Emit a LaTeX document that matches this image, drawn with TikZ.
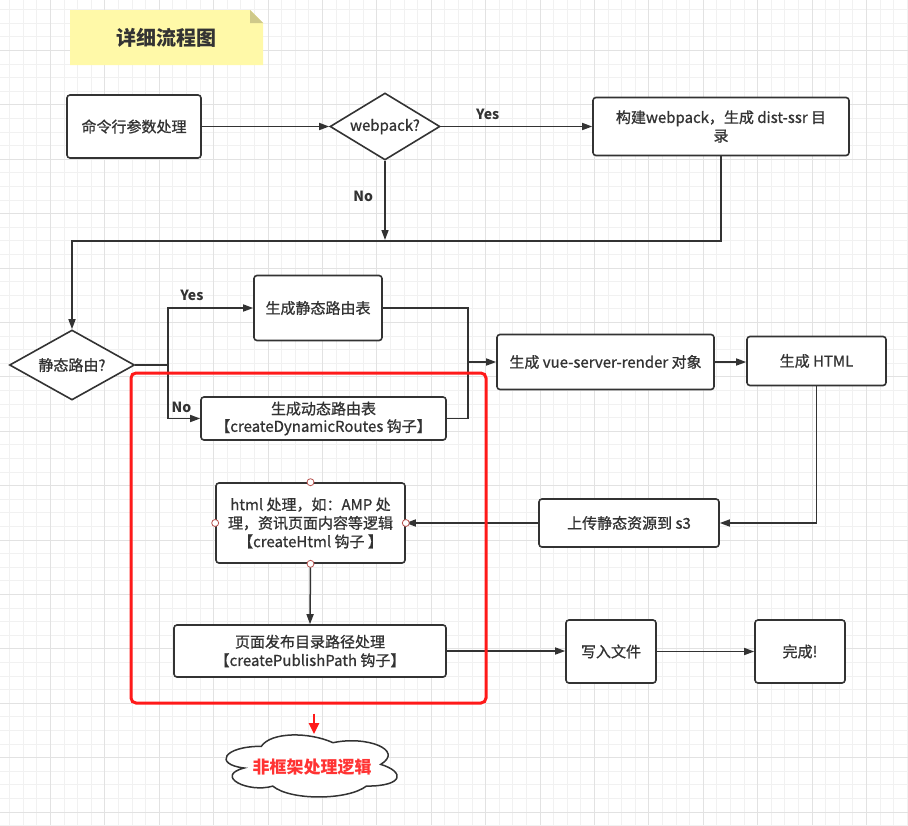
\documentclass[tikz,border=0pt]{standalone}
\usepackage{fontspec}
\setmainfont{Noto Sans CJK SC}
\newfontfamily\boxfont{Noto Sans CJK SC}[FakeBold=0.9]
\usetikzlibrary{arrows.meta,shapes.geometric,calc}
\definecolor{ink}{HTML}{333333}
\definecolor{gminor}{HTML}{F1F1F1}
\definecolor{gmajor}{HTML}{E2E2E2}
\definecolor{notey}{HTML}{FFF9A8}
\definecolor{notef}{HTML}{CFC98A}
\definecolor{hred}{HTML}{FF1A1A}
\definecolor{cred}{HTML}{FF3333}
\definecolor{handle}{HTML}{B85450}
\tikzset{
  txt/.style={font=\boxfont\fontsize{15}{18.5}\selectfont, text=ink},
  stepbox/.style={draw=ink, line width=1.6, rounded corners=3, fill=white, align=center, inner sep=2, txt},
  decision/.style={diamond, draw=ink, line width=1.6, fill=white, inner sep=0, aspect=1.7, txt},
  conn/.style={draw=ink, line width=1.5, -{Triangle[length=10,width=7]}},
  plainline/.style={draw=ink, line width=1.5},
  lbl/.style={text=ink, font=\fontsize{14}{17}\selectfont\bfseries},
  hnd/.style={circle, draw=handle, fill=white, line width=0.8, minimum size=7, inner sep=0},
}
\begin{document}
\begin{tikzpicture}[x=1pt,y=-1pt]
\useasboundingbox (0,0) rectangle (908,825);
\fill[white] (0,0) rectangle (908,825);
% grid
\foreach \i in {0,...,66} {\pgfmathsetmacro\xx{9.6+13.6*\i}\draw[gminor, line width=0.8] (\xx,0) -- (\xx,825);}
\foreach \i in {0,...,60} {\pgfmathsetmacro\yy{9.6+13.6*\i}\draw[gminor, line width=0.8] (0,\yy) -- (908,\yy);}
\foreach \i in {0,...,16} {\pgfmathsetmacro\xx{50.4+54.4*\i}\draw[gmajor, line width=0.8] (\xx,0) -- (\xx,825);}
\foreach \i in {0,...,15} {\pgfmathsetmacro\yy{50.4+54.4*\i}\draw[gmajor, line width=0.8] (0,\yy) -- (908,\yy);}
% title note
\fill[notey] (70,10) -- (250,10) -- (263,23) -- (263,65) -- (70,65) -- cycle;
\fill[notef] (250,10) -- (263,23) -- (250,23) -- cycle;
\node[text=ink, font=\fontsize{20}{24}\selectfont\bfseries] (title) at (166,38) {详细流程图};
% nodes
\node[stepbox, minimum width=134, minimum height=63] (a) at (134,126.5) {命令行参数处理};
\node[decision, minimum width=110, minimum height=67] (d1) at (385,126.5) {webpack?};
\node[stepbox, minimum width=256, minimum height=58] (b) at (721,126.5) {构建webpack，生成 dist-ssr 目\\录};
\node[decision, minimum width=125, minimum height=70] (d2) at (72,365) {静态路由?};
\node[stepbox, minimum width=128, minimum height=65] (c) at (318,308) {生成静态路由表};
\node[stepbox, minimum width=245, minimum height=43, font=\boxfont\fontsize{15}{17.5}\selectfont] (dd) at (323.5,418.5) {生成动态路由表\\【createDynamicRoutes 钩子】};
\node[stepbox, minimum width=217, minimum height=55] (e) at (605.5,362) {生成 vue-server-render 对象};
\node[stepbox, minimum width=139, minimum height=49] (f) at (816.5,361) {生成 HTML};
\node[stepbox, minimum width=180, minimum height=48] (g) at (629,523) {上传静态资源到 s3};
\node[stepbox, minimum width=189, minimum height=80] (h) at (310.5,523) {html 处理，如：AMP 处\\理，资讯页面内容等逻辑\\【createHtml 钩子 】};
\node[stepbox, minimum width=272, minimum height=52] (i) at (310,651) {页面发布目录路径处理\\【createPublishPath 钩子】};
\node[stepbox, minimum width=90, minimum height=63] (j) at (611,651.5) {写入文件};
\node[stepbox, minimum width=90, minimum height=63] (k) at (800,651.5) {完成!};
% connectors
\coordinate (m1) at (385,240);
\coordinate (j1) at (721,241);
\coordinate (sp) at (168,365);
\coordinate (mg) at (468,362);
\draw[conn] (a.east) -- (d1.west);
\draw[conn] (d1.east) -- node[lbl, pos=0.31, above=3pt]{Yes} (d1.east -| b.west);
\draw[conn] (d1.south) -- node[lbl, pos=0.45, left=8pt]{No} (m1);
\draw[conn] (b.south) -- (j1) -| (d2.north);
\draw[plainline] (d2.east) -- (sp);
\draw[conn] (sp) |- node[lbl, pos=0.64, above=3pt]{Yes} (c.west);
\draw[conn] (sp) |- node[lbl, pos=0.71, above=2pt]{No} (dd.west);
\draw[plainline] (c.east) -| (mg);
\draw[plainline] (dd.east) -| (mg);
\draw[conn] (mg) -- (e.west);
\draw[conn] (e.east) -- (e.east -| f.west);
\draw[conn] (f.south) |- (g.east);
\draw[conn] (g.west) -- (h.east);
\draw[conn] (h.south) -- (i.north);
\draw[conn] (i.east) -- (i.east -| j.west);
\draw[conn] (j.east) -- (k.west);
% handles
\node[hnd] (h1) at (h.north) {};
\node[hnd] (h2) at (h.west) {};
\node[hnd] (h3) at (h.east) {};
\node[hnd] (h4) at (h.south) {};
% red frame
\node[draw=hred, line width=3, rounded corners=5, minimum width=355, minimum height=330, inner sep=0] (rb) at (308.5,538) {};
% cloud (draw.io style)
\draw[draw=ink, line width=1.5, fill=white]
  (261.35,746.3) .. controls (223.15,746.3) and (213.6,764.4) .. (244.16,768.0)
  .. controls (213.6,776.0) and (248.0,793.4) .. (272.8,786.1)
  .. controls (290.0,800.6) and (347.3,800.6) .. (366.4,786.1)
  .. controls (404.6,786.1) and (404.6,771.6) .. (380.7,764.4)
  .. controls (404.6,749.9) and (366.4,735.4) .. (333.0,742.7)
  .. controls (309.1,731.8) and (270.9,731.8) .. (261.35,746.3) -- cycle;
\coordinate (cltop) at (314,734);
\node[text=cred, font=\fontsize{17}{20}\selectfont\bfseries] (clt) at (312,767) {非框架处理逻辑};
\draw[draw=hred, line width=2.5, -{Triangle[length=11,width=10]}, shorten <=9] (cltop |- rb.south) -- (cltop);
\end{tikzpicture}
\end{document}
